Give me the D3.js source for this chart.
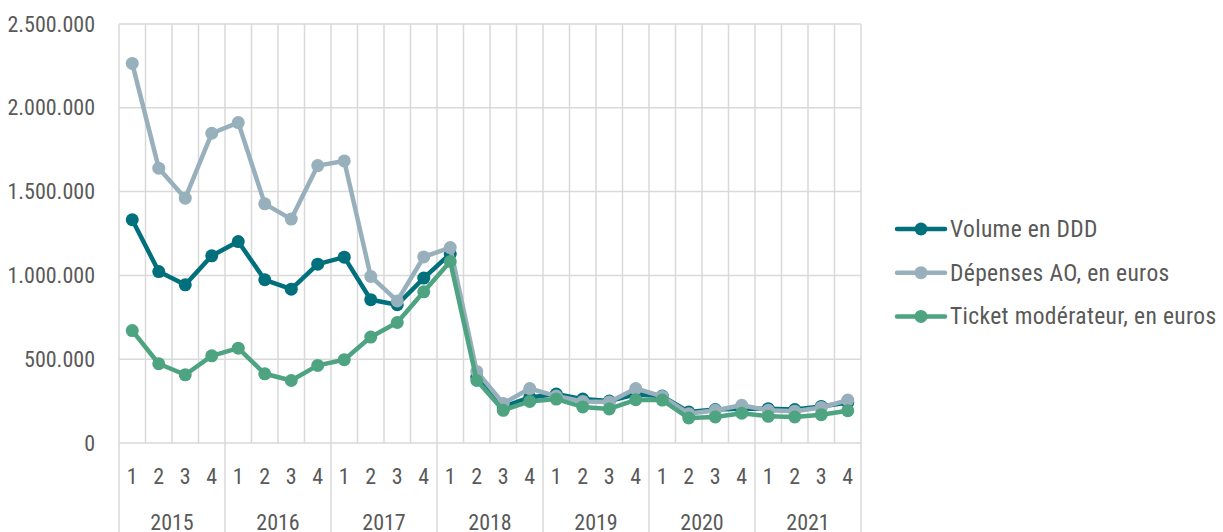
<!DOCTYPE html>
<html>
<head>
<meta charset="utf-8">
<script src="https://cdn.jsdelivr.net/npm/d3@7"></script>
<style>
  html, body { margin: 0; padding: 0; background: #fff; }
  svg { display: block; }
  text { font-family: "Roboto Condensed", "Liberation Sans Narrow", "DejaVu Sans Condensed", sans-serif; fill: #595959; }
</style>
</head>
<body>
<svg id="chart" width="1223" height="532"></svg>
<script>
// Quarterly series, 2015 Q1 – 2021 Q4
const years = ["2015", "2016", "2017", "2018", "2019", "2020", "2021"];
const quarters = ["1", "2", "3", "4"];

const volumeDDD = [
  1332000, 1023000, 944000, 1117000,
  1202000, 974000, 918000, 1067000,
  1109000, 855000, 825000, 984000,
  1129000, 395000, 215000, 272000,
  292000, 262000, 250000, 290000,
  280000, 185000, 200000, 205000,
  205000, 200000, 218000, 242000
];
const depensesAO = [
  2265000, 1640000, 1461000, 1848000,
  1912000, 1427000, 1336000, 1655000,
  1683000, 994000, 848000, 1110000,
  1166000, 427000, 236000, 325000,
  280000, 248000, 245000, 325000,
  278000, 175000, 195000, 225000,
  195000, 190000, 212000, 256000
];
const ticketModerateur = [
  671000, 473000, 407000, 520000,
  566000, 413000, 373000, 463000,
  497000, 632000, 719000, 902000,
  1083000, 373000, 195000, 248000,
  262000, 215000, 203000, 258000,
  256000, 149000, 155000, 178000,
  159000, 155000, 169000, 193000
];

const yTicks = [0, 500000, 1000000, 1500000, 2000000, 2500000];

const seriesNames = ["Volume en DDD", "Dépenses AO, en euros", "Ticket modérateur, en euros"];
const seriesColors = ["#00707c", "#98b0bb", "#4ea381"];
const seriesValues = [volumeDDD, depensesAO, ticketModerateur];

const periods = [];
years.forEach(y => quarters.forEach(q => periods.push(y + "-" + q)));

const svg = d3.select("#chart");
const margin = { left: 119, top: 24, right: 861, bottom: 443 };

const x = d3.scaleBand().domain(periods).range([margin.left, margin.right]);
const y = d3.scaleLinear().domain([0, 2500000]).range([margin.bottom, margin.top]);

const grid = svg.append("g").attr("stroke", "#d9d9d9").attr("stroke-width", 1.5);

// horizontal gridlines
grid.selectAll("line.h").data(yTicks).join("line")
  .attr("x1", margin.left).attr("x2", margin.right)
  .attr("y1", d => y(d)).attr("y2", d => y(d));

// vertical separators between quarters; year boundaries run down through the labels
const bounds = periods.map(p => x(p)).concat([margin.right]);
grid.selectAll("line.v").data(bounds).join("line")
  .attr("x1", d => d).attr("x2", d => d)
  .attr("y1", margin.top)
  .attr("y2", (d, i) => (i % 4 === 0 ? 532 : margin.bottom));

// y axis labels
const fmt = v => d3.format(",")(v).replace(/,/g, ".");
svg.append("g").selectAll("text").data(yTicks).join("text")
  .attr("x", 95).attr("y", d => y(d))
  .attr("text-anchor", "end").attr("dominant-baseline", "central")
  .attr("font-size", 22)
  .text(fmt);

// quarter labels
svg.append("g").selectAll("text").data(periods).join("text")
  .attr("x", p => x(p) + x.bandwidth() / 2).attr("y", 476)
  .attr("text-anchor", "middle").attr("dominant-baseline", "central")
  .attr("font-size", 22)
  .text(p => p.split("-")[1]);

// year labels (bottom row, partly clipped by the frame edge)
svg.append("g").selectAll("text").data(years).join("text")
  .attr("x", yr => (x(yr + "-1") + x(yr + "-4") + x.bandwidth()) / 2).attr("y", 522)
  .attr("text-anchor", "middle").attr("dominant-baseline", "central")
  .attr("font-size", 22)
  .text(yr => yr);

// lines with markers
const line = d3.line()
  .x((d, i) => x(periods[i]) + x.bandwidth() / 2)
  .y(d => y(d));

seriesValues.forEach((vals, s) => {
  const g = svg.append("g");
  g.append("path").datum(vals)
    .attr("d", line)
    .attr("fill", "none")
    .attr("stroke", seriesColors[s])
    .attr("stroke-width", 4.5)
    .attr("stroke-linejoin", "round");
  g.selectAll("circle").data(vals).join("circle")
    .attr("cx", (d, i) => x(periods[i]) + x.bandwidth() / 2)
    .attr("cy", d => y(d))
    .attr("r", 6.5)
    .attr("fill", seriesColors[s]);
});

// legend
const legend = svg.append("g");
seriesNames.forEach((name, s) => {
  const ly = 229 + s * 43.7;
  legend.append("line")
    .attr("x1", 897).attr("x2", 945).attr("y1", ly).attr("y2", ly)
    .attr("stroke", seriesColors[s]).attr("stroke-width", 4.5).attr("stroke-linecap", "round");
  legend.append("circle").attr("cx", 921).attr("cy", ly).attr("r", 6.5).attr("fill", seriesColors[s]);
  legend.append("text")
    .attr("x", 950).attr("y", ly)
    .attr("dominant-baseline", "central")
    .attr("font-size", 23.5)
    .attr("letter-spacing", 0.35)
    .text(name);
});
</script>
</body>
</html>
